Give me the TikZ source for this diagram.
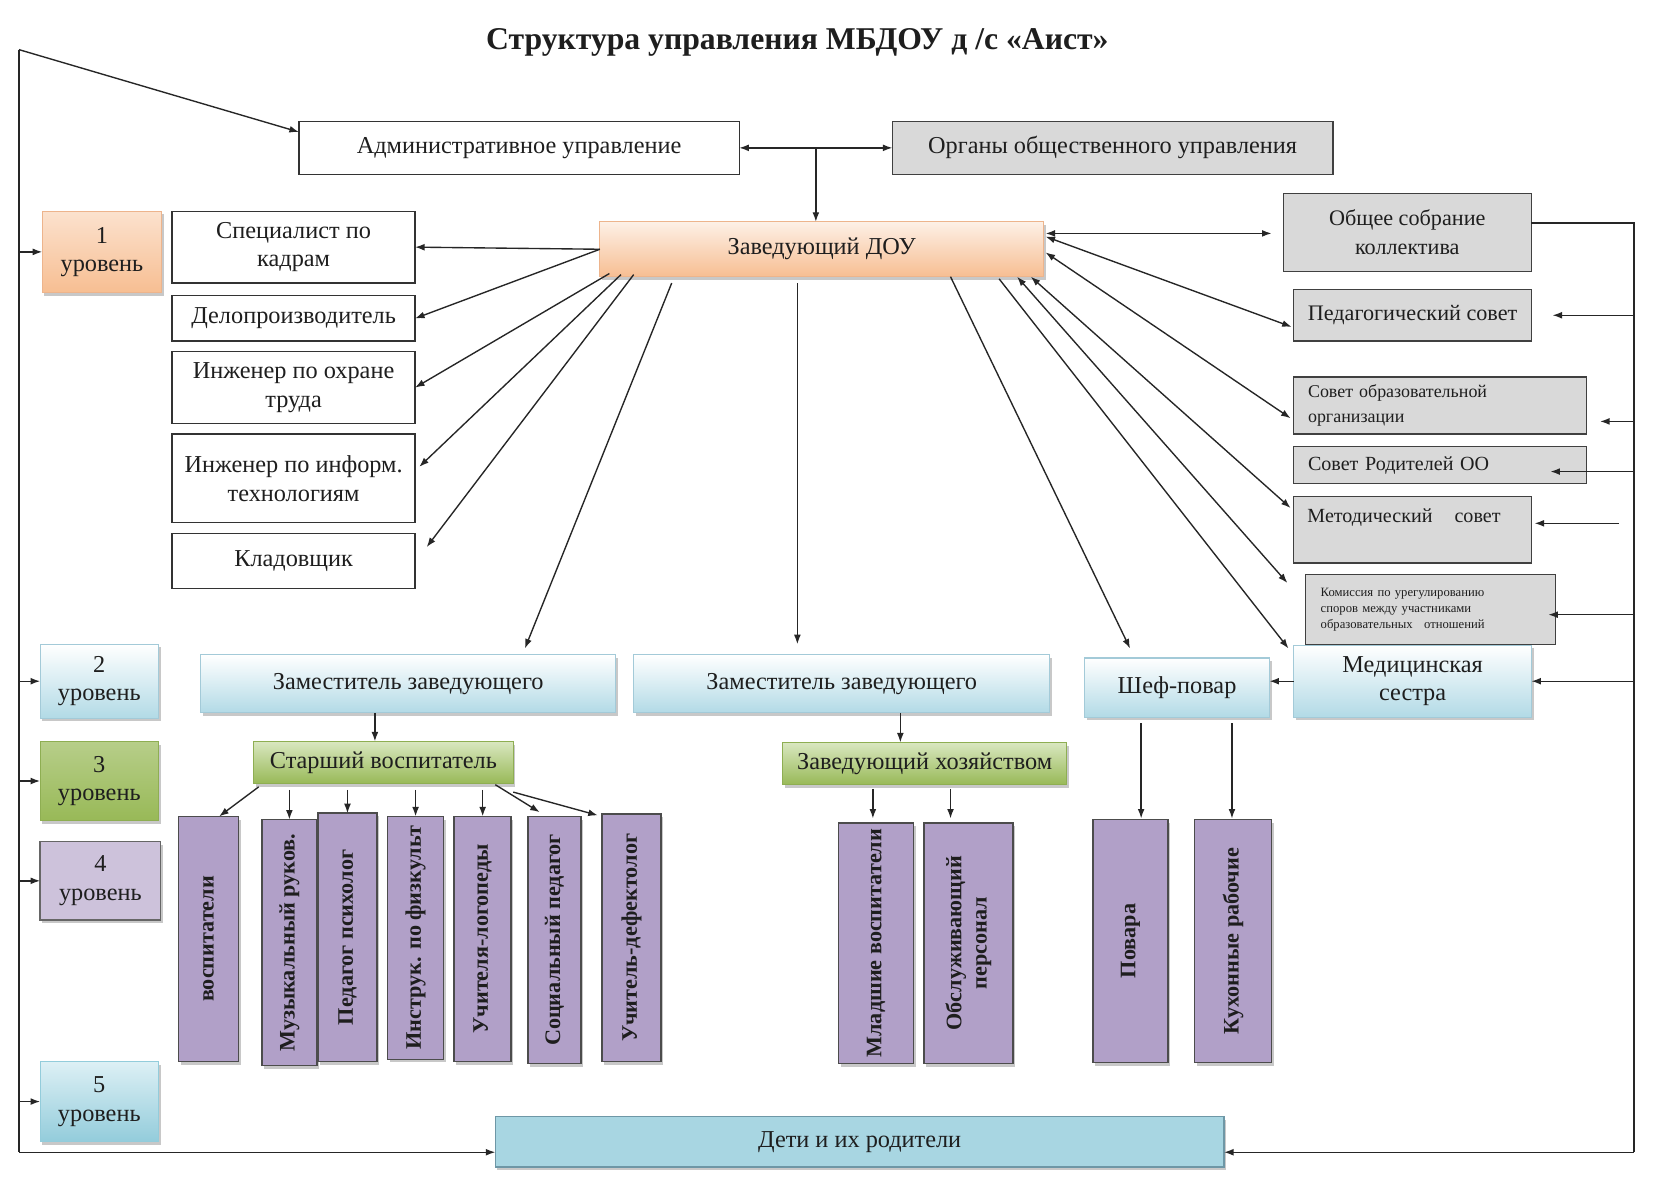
\documentclass[tikz,border=0pt]{standalone}
\usepackage{fontspec}
\setmainfont{Liberation Serif}
\usetikzlibrary{arrows.meta,calc,shadows}
\definecolor{txt}{HTML}{1E1E1E}
\definecolor{peachT}{HTML}{FDF0E6}
\definecolor{peachB}{HTML}{F7BE92}
\definecolor{peachD}{HTML}{EDB48C}
\definecolor{blueB}{HTML}{B2DAE6}
\definecolor{blueD}{HTML}{A3CAD8}
\definecolor{greenT}{HTML}{D9E7C0}
\definecolor{greenB}{HTML}{98B957}
\definecolor{greenD}{HTML}{8EAE52}
\definecolor{lilac}{HTML}{CDC2DB}
\definecolor{purp}{HTML}{B1A0C8}
\definecolor{grayF}{HTML}{D9D9D9}
\definecolor{kidF}{HTML}{A8D6E2}
\definecolor{kidD}{HTML}{6E97A6}
\definecolor{l5T}{HTML}{DDF0F5}
\definecolor{l5B}{HTML}{93CCDB}
\begin{document}
\begin{tikzpicture}[x=1pt,y=-1pt,
  R/.style args={#1,#2,#3,#4}{at={(#1/2+#3/2,#2/2+#4/2)},minimum width={(#3-#1)*1pt},minimum height={(#4-#2)*1pt}},
  shad/.style={drop shadow={shadow xshift=2pt,shadow yshift=-3pt,opacity=0.3,fill=black!70}},
  bx/.style={inner sep=0pt,outer sep=0pt,align=center,text=txt,font=\fontsize{23}{27}\selectfont},
  wbox/.style={bx,draw=black!80,line width=1.3pt,fill=white},
  gbox/.style={bx,draw=black!75,line width=1.3pt,fill=grayF},
  pbox/.style={bx,draw=peachD,line width=1pt,top color=peachT,bottom color=peachB,shad},
  lbbox/.style={bx,draw=blueD,line width=1pt,top color=white,bottom color=blueB,shad},
  grbox/.style={bx,draw=greenD,line width=1pt,top color=greenT,bottom color=greenB,shad},
  lilbox/.style={bx,draw=black!60,line width=1.2pt,fill=lilac,shad},
  l5box/.style={bx,draw=l5B,line width=1pt,top color=l5T,bottom color=l5B,shad},
  kidbox/.style={bx,draw=kidD,line width=1.3pt,fill=kidF,shad},
  purbox/.style={inner sep=0pt,outer sep=0pt,draw=black!70,line width=1.5pt,fill=purp,shad},
  vtext/.style={rotate=90,align=center,text=txt,inner sep=0pt,font=\bfseries\fontsize{21}{24}\selectfont},
  ln/.style={line width=1.3pt,draw=black!85},
  arr/.style={ln,-{Latex[length=9pt,width=6.5pt]}},
  arrb/.style={ln,{Latex[length=9pt,width=6.5pt]}-{Latex[length=9pt,width=6.5pt]}}]
\useasboundingbox (0,0) rectangle (1568,1125);
\fill[white] (0,0) rectangle (1568,1125);

\node[font=\bfseries\fontsize{30}{34}\selectfont,text=txt] (title) at (755,40) {Структура управления МБДОУ д /с «Аист»};

% top row
\node[wbox,R={283,115,700,165}] (admin) {Административное управление};
\node[gbox,R={845,115,1262,165}] (organy) {Органы общественного управления};
\node[pbox,R={568,210,988,262}] (zav) {Заведующий ДОУ};

% level boxes
\node[pbox,R={40,200,153,277},top color=peachB!45,bottom color=peachB] (lvl1) {1\\уровень};
\node[lbbox,R={38,610,150,680}] (lvl2) {2\\уровень};
\node[grbox,R={38,702,150,777},top color=greenB!70!white] (lvl3) {3\\уровень};
\node[lilbox,R={38,797,152,871}] (lvl4) {4\\уровень};
\node[l5box,R={38,1005,150,1081}] (lvl5) {5\\уровень};

% left column
\node[wbox,R={163,200,393,268}] (spec) {Специалист по\\кадрам};
\node[wbox,R={163,280,393,323}] (delo) {Делопроизводитель};
\node[wbox,R={163,333,393,401}] (ingOT) {Инженер по охране\\труда};
\node[wbox,R={163,411,393,495}] (ingIT) {Инженер по информ.\\технологиям};
\node[wbox,R={163,505,393,557}] (klad) {Кладовщик};

% right column
\node[gbox,R={1215,183,1450,257},font=\fontsize{21}{27}\selectfont] (obsh) {Общее собрание\\коллектива};
\node[gbox,R={1225,274,1450,323},font=\fontsize{21}{25}\selectfont] (ped) {Педагогический совет};
\node[gbox,R={1225,357,1502,411},text width=250pt,align=left,font=\fontsize{17}{23}\selectfont] (sovOO) {Совет образовательной\\организации};
\node[gbox,R={1225,423,1502,458},text width=250pt,align=left,font=\fontsize{19}{22}\selectfont] (sovRod) {Совет Родителей ОО};
\node[gbox,R={1225,470,1450,533},text width=199pt,align=left,font=\fontsize{19}{26}\selectfont] (metod) {Методический\hspace{1.1em}совет\\\mbox{}};
\node[gbox,R={1236,544,1473,610},text width=208pt,align=left,font=\fontsize{12}{15}\selectfont] (komis) {Комиссия по урегулированию\\споров между участниками\\образовательных\hspace{0.9em}отношений};
\node[lbbox,R={1225,611,1450,679}] (med) {Медицинская\\сестра};
\node[lbbox,R={1027,623,1202,679}] (shef) {Шеф-повар};

% second level
\node[lbbox,R={190,620,583,675}] (zam1) {Заместитель заведующего};
\node[lbbox,R={600,620,994,675}] (zam2) {Заместитель заведующего};
\node[grbox,R={240,702,486,742}] (stvos) {Старший воспитатель};
\node[grbox,R={741,703,1010,743}] (zavhoz) {Заведующий хозяйством};

% purple columns
\node[purbox,R={169,773,226,1005}] (vosp) {};
\node[purbox,R={248,776,300,1009}] (muz) {};
\node[purbox,R={301,770,357,1005}] (psih) {};
\node[purbox,R={367,773,420,1003}] (instr) {};
\node[purbox,R={430,773,484,1005}] (logo) {};
\node[purbox,R={500,773,550,1007}] (soc) {};
\node[purbox,R={570,771,626,1005}] (defek) {};
\node[purbox,R={794,779,865,1007}] (mlad) {};
\node[purbox,R={875,779,959,1007}] (obsl) {};
\node[purbox,R={1035,776,1106,1006}] (povar) {};
\node[purbox,R={1131,776,1204,1006}] (kuh) {};
\node[vtext] (vospT) at (vosp.center) {воспитатели};
\node[vtext] (muzT) at (muz.center) {Музыкальный руков.};
\node[vtext] (psihT) at (psih.center) {Педагог психолог};
\node[vtext] (instrT) at (instr.center) {Инструк. по физкульт};
\node[vtext] (logoT) at (logo.center) {Учителя-логопеды};
\node[vtext] (socT) at (soc.center) {Социальный педагог};
\node[vtext] (defekT) at (defek.center) {Учитель-дефектолог};
\node[vtext] (mladT) at (mlad.center) {Младшие воспитатели};
\node[vtext] (obslT) at (obsl.center) {Обслуживающий\\персонал};
\node[vtext] (povarT) at (povar.center) {Повара};
\node[vtext] (kuhT) at (kuh.center) {Кухонные рабочие};

\node[kidbox,R={469,1057,1159,1105}] (deti) {Дети и их родители};

% left bus
\coordinate (lt) at (18,47);
\coordinate (lb) at (18,1091);
\draw[arr] (lt) -- ($(admin.north west)!0.2!(admin.south west)$);
\draw[ln] (lt) -- (lb);
\draw[arr] (lb) -- (lb -| deti.west);
\foreach \l in {lvl1,lvl2,lvl3,lvl4,lvl5}{\draw[arr] (\l.west -| lt) -- (\l.west);}

% right bus
\coordinate (rt) at (1547,211);
\coordinate (rb) at (1547,1091);
\draw[ln] (obsh.east |- rt) -- (rt) -- (rb);
\draw[arr] (rb) -- (rb -| deti.east);
\coordinate (tPed) at ($(ped.east)+(20,0)$);
\coordinate (tSov) at ($(sovOO.south east)+(13,-12)$);
\coordinate (tRod) at ($(sovRod.east)+(-34,6)$);
\coordinate (tMet) at ($(metod.east)+(3,-6)$);
\coordinate (sMet) at ($(metod.east)+(83,-6)$);
\coordinate (tKom) at ($(komis.east)+(-7,5)$);
\draw[arr] (tPed -| rb) -- (tPed);
\draw[arr] (tSov -| rb) -- (tSov);
\draw[arr] (tRod -| rb) -- (tRod);
\draw[arr] (sMet) -- (tMet);
\draw[arr] (tKom -| rb) -- (tKom);
\draw[arr] (med.east -| rb) -- (med.east);
\draw[arr] (med.west) -- (med.west -| shef.east);

% top connections
\draw[arrb] (admin.east) -- (organy.west);
\coordinate (jt) at ($(admin.east)!0.5!(organy.west)$);
\draw[arr] (jt) -- (jt |- zav.north);

% from Заведующий to the left
\draw[arr] (zav.west) -- (spec.east);
\draw[arr] (zav.west) -- (delo.east);
\draw[arr] ($(zav.south west)+(9,-3)$) -- (ingOT.east);
\draw[arr] ($(zav.south west)+(20,-2)$) -- ($(ingIT.east)+(4,-11)$);
\draw[arr] ($(zav.south west)+(32,-2)$) -- ($(klad.east)+(11,-13)$);
\draw[arr] ($(zav.south west)+(68,6)$) -- ($(zam1.north east)+(-86,-6)$);
\coordinate (z2s) at ($(zav.south west)+(187,6)$);
\draw[arr] (z2s) -- ($(z2s |- zam2.north)+(0,-10)$);

% from Заведующий to the right
\draw[arr] ($(zav.south east)+(-88,0)$) -- ($(shef.north west)+(43,-9)$);
\draw[arr] ($(zav.south east)+(-42,2)$) -- ($(med.north west)+(-5,3)$);
\draw[arrb] ($(zav.south east)+(-25,0)$) -- ($(komis.west)+(-17,-25)$);
\draw[arrb] ($(zav.south east)+(-12,0)$) -- ($(metod.north west)+(-3,11)$);
\draw[arrb] ($(zav.east)+(2,3)$) -- ($(sovOO.west)+(-3,12)$);
\draw[arrb] ($(zav.east)+(2,-12)$) -- ($(ped.west)+(-2,11)$);
\draw[arrb] ($(zav.east)+(2,-15)$) -- ($(obsh.west)+(-11,1)$);

% second level down
\coordinate (s1) at ($(stvos.north)+(-8,0)$);
\draw[arr] (s1 |- zam1.south) -- (s1);
\coordinate (s2) at ($(zavhoz.north)+(-23,0)$);
\draw[arr] (s2 |- zam2.south) -- (s2);

% Старший воспитатель to columns
\draw[arr] ($(stvos.south west)+(5,3)$) -- ($(vosp.north)+(10,0)$);
\foreach \c in {muz,psih,instr,logo}{\draw[arr] ($(stvos.south -| \c.north)+(0,6)$) -- (\c.north);}
\draw[arr] ($(stvos.south east)+(-17,1)$) -- ($(soc.north)+(-14,-4)$);
\draw[arr] ($(stvos.south east)+(0,8)$) -- ($(defek.north)+(-32,1)$);

% Заведующий хозяйством to columns
\draw[arr] ($(zavhoz.south -| mlad.north)+(-3,4)$) -- ($(mlad.north)+(-3,-4)$);
\draw[arr] ($(zavhoz.south -| obsl.north)+(-17,4)$) -- ($(obsl.north)+(-17,-4)$);

% Шеф-повар to columns
\draw[arr] ($(shef.south -| povar.north)+(10,6)$) -- ($(povar.north)+(10,-1)$);
\draw[arr] ($(shef.south -| kuh.north)+(-1,6)$) -- ($(kuh.north)+(-1,-1)$);
\end{tikzpicture}
\end{document}
